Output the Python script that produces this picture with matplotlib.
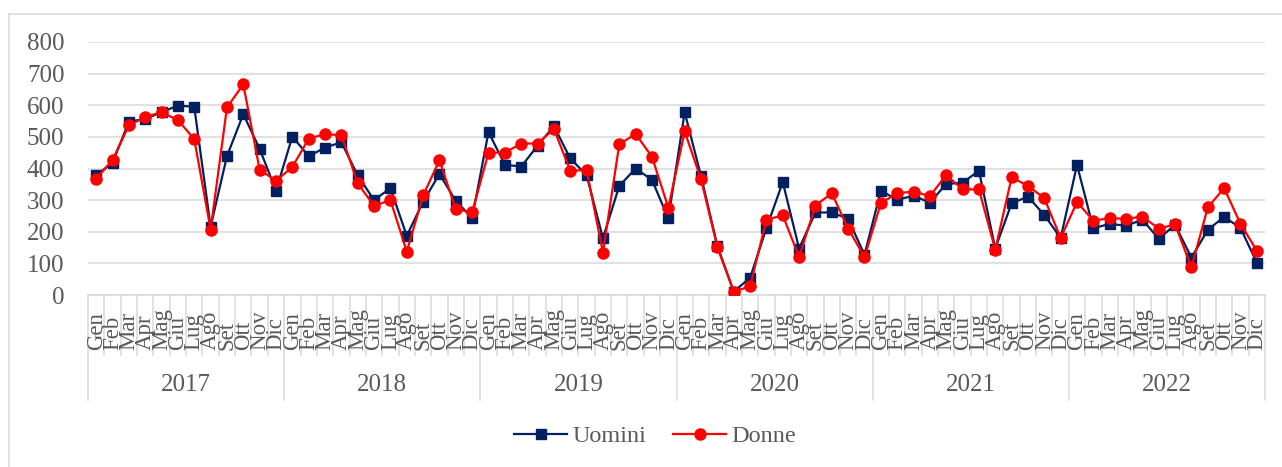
import matplotlib.pyplot as plt
from matplotlib.lines import Line2D
import numpy as np

years = ['2017', '2018', '2019', '2020', '2021', '2022']
months = ['Gen', 'Feb', 'Mar', 'Apr', 'Mag', 'Giu', 'Lug', 'Ago', 'Set', 'Ott', 'Nov', 'Dic']

uomini = [378, 418, 548, 557, 578, 599, 595, 216, 439, 572, 462, 330,
          501, 439, 466, 483, 378, 300, 338, 187, 295, 383, 297, 244,
          515, 412, 406, 472, 534, 432, 379, 180, 345, 400, 364, 242,
          578, 376, 155, 11, 54, 211, 357, 147, 261, 261, 241, 127,
          330, 301, 314, 292, 351, 355, 393, 147, 290, 311, 253, 180,
          411, 211, 225, 219, 238, 178, 222, 118, 206, 247, 212, 102]

donne = [368, 427, 536, 563, 578, 553, 493, 207, 593, 666, 396, 361,
         405, 494, 509, 505, 353, 282, 300, 137, 315, 426, 271, 262,
         450, 450, 479, 479, 525, 393, 395, 134, 477, 509, 437, 276,
         517, 366, 151, 11, 27, 238, 252, 120, 283, 322, 210, 120,
         290, 322, 327, 313, 379, 334, 334, 143, 372, 345, 306, 180,
         294, 235, 243, 241, 248, 210, 223, 87, 277, 338, 225, 140]

plt.rcParams['font.family'] = ['Liberation Serif', 'DejaVu Serif']
txt = '#595959'
grid = '#d9d9d9'

W, H = 1282, 467
fig = plt.figure(figsize=(W / 100, H / 100), dpi=100)
ax = fig.add_axes([88 / W, (H - 295) / H, 1177 / W, 253 / H])

n = len(uomini)
x = np.arange(n) + 0.5
ax.plot(x, uomini, color='#002060', lw=1.6, marker='s', ms=7.2, label='Uomini', zorder=3)
ax.plot(x, donne, color='#ff0000', lw=1.6, marker='o', ms=8, label='Donne', zorder=4)

ax.set_xlim(0, n)
ax.set_ylim(0, 800)
ax.set_yticks(range(0, 801, 100))
ax.yaxis.grid(True, color=grid, lw=1.1)
ax.set_axisbelow(True)
for s in ['top', 'right', 'left']:
    ax.spines[s].set_visible(False)
ax.spines['bottom'].set_color(grid)
ax.spines['bottom'].set_linewidth(1.1)
ax.tick_params(axis='y', length=0, pad=17, labelsize=18, labelcolor=txt)
ax.set_xticks([])

# multi-level category axis
trans = ax.get_xaxis_transform()
for i in range(n + 1):
    bottom = -0.415 if i % 12 == 0 else -0.237
    ax.plot([i, i], [0, bottom], color=grid, lw=1.1, transform=trans, clip_on=False)
for i in range(n):
    ax.text(i + 0.5, -0.217, months[i % 12], rotation=90, ha='center', va='bottom',
            fontsize=16.5, color=txt, transform=trans)
for j, y in enumerate(years):
    ax.text(j * 12 + 6, -0.356, y, ha='center', va='center', fontsize=18,
            color=txt, transform=trans)

# chart area border
fig.add_artist(Line2D([8.5 / W, 8.5 / W], [0, 1 - 13.5 / H], color=grid, lw=1.1))
fig.add_artist(Line2D([8.5 / W, 1], [1 - 13.5 / H, 1 - 13.5 / H], color=grid, lw=1.1))

leg = fig.legend(loc='center', bbox_to_anchor=(655 / W, 1 - 436 / H), ncol=2, frameon=False,
                 fontsize=17.5, handlelength=2.2, handletextpad=0.2, columnspacing=1.1)
for t in leg.get_texts():
    t.set_color(txt)

fig.savefig('out.png', dpi=100)
